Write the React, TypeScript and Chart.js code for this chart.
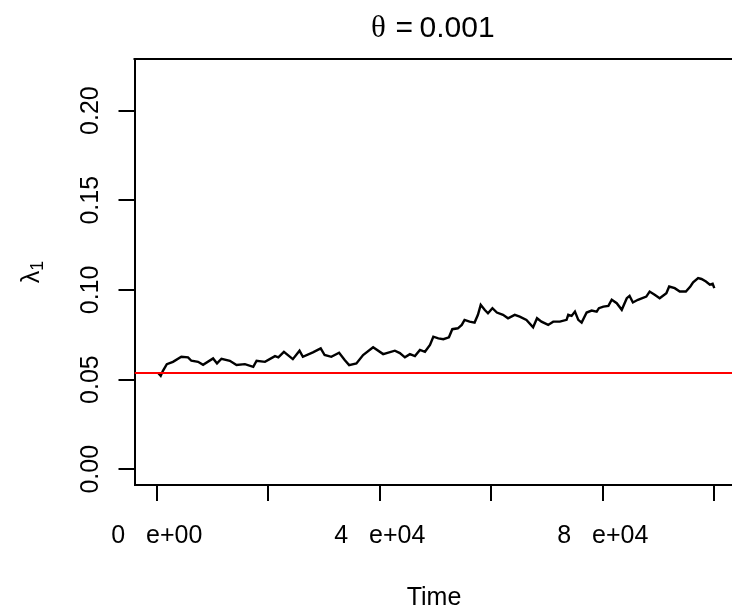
import React, { useEffect, useRef } from "react";
import { Chart, registerables } from "chart.js";

Chart.register(...registerables);

// Simulated path of lambda_1 over time
const timeValues = [
  200, 700, 1100, 1800, 2900, 4400, 5600, 6200, 7400, 8300,
  10100, 10800, 11600, 13100, 14300, 15800, 17300, 17900, 19400, 21200,
  21800, 22800, 24400, 25600, 26200, 28000, 29400, 30100, 31300, 32700,
  33700, 34500, 35800, 37000, 38800, 40600, 42700, 43600, 44500, 45400,
  46300, 47200, 48100, 49000, 49600, 50500, 51400, 52400, 53000, 54000,
  54700, 55200, 56100, 57000, 57600, 58100, 58800, 59400, 60200, 61000,
  62100, 63000, 64200, 65100, 66300, 67500, 68200, 69000, 70200, 71100,
  72300, 73500, 73800, 74400, 75000, 75600, 76200, 77100, 78000, 78900,
  79300, 80100, 81000, 81600, 82500, 83400, 84300, 84800, 85400, 86300,
  87800, 88400, 89300, 90200, 91400, 91900, 92900, 93800, 94900, 95700,
  96200, 97100, 97700, 98500, 99200, 99700, 100000,
];
const lambdaValues = [
  0.0538, 0.0521, 0.0549, 0.0586, 0.0599, 0.0627, 0.0624, 0.0605, 0.0599, 0.0582,
  0.0618, 0.0590, 0.0616, 0.0605, 0.0581, 0.0586, 0.0571, 0.0605, 0.0599, 0.0631,
  0.0624, 0.0655, 0.0614, 0.0661, 0.0627, 0.0652, 0.0674, 0.0637, 0.0627, 0.0650,
  0.0609, 0.0581, 0.0590, 0.0637, 0.0680, 0.0642, 0.0661, 0.0648, 0.0624, 0.0642,
  0.0631, 0.0665, 0.0655, 0.0693, 0.0739, 0.0730, 0.0725, 0.0736, 0.0781, 0.0786,
  0.0805, 0.0833, 0.0823, 0.0818, 0.0861, 0.0917, 0.0889, 0.0870, 0.0898, 0.0874,
  0.0861, 0.0842, 0.0861, 0.0851, 0.0833, 0.0792, 0.0842, 0.0823, 0.0805, 0.0823,
  0.0823, 0.0833, 0.0861, 0.0855, 0.0879, 0.0833, 0.0818, 0.0874, 0.0885, 0.0879,
  0.0898, 0.0907, 0.0911, 0.0945, 0.0926, 0.0889, 0.0954, 0.0967, 0.0930, 0.0945,
  0.0963, 0.0991, 0.0973, 0.0954, 0.0982, 0.1019, 0.1010, 0.0991, 0.0991, 0.1019,
  0.1042, 0.1066, 0.1061, 0.1047, 0.1029, 0.1034, 0.1010,
];
const trueLambda = 0.0537;

const xTickValues = [0, 20000, 40000, 60000, 80000, 100000];
const xTickLabels = ["0   e+00", "", "4   e+04", "", "8   e+04", ""];
const yTickValues = [0, 0.05, 0.1, 0.15, 0.2];
const yTickLabels = ["0.00", "0.05", "0.10", "0.15", "0.20"];

const titleTheta = "θ";
const titleRest = ["=", "0.001"];
const xAxisTitle = "Time";
const yAxisSymbol = "λ";
const yAxisSub = "1";

const X_MIN = -4000;
const X_MAX = 103172;
const Y_MIN = -0.0088;
const Y_MAX = 0.2288;

const SANS = '"Liberation Sans", Arial, sans-serif';
const SERIF = '"Liberation Serif", "Times New Roman", serif';

const rStylePlugin = {
  id: "rStyle",
  afterDraw(chart: any) {
    const ctx = chart.ctx as CanvasRenderingContext2D;
    const area = chart.chartArea;
    const xs = chart.scales.x;
    const ys = chart.scales.y;
    ctx.save();
    ctx.fillStyle = "#000";
    ctx.strokeStyle = "#000";

    // top border of the box (right side is beyond the canvas)
    ctx.lineWidth = 2;
    ctx.beginPath();
    ctx.moveTo(area.left - 1, Math.round(area.top));
    ctx.lineTo(chart.width, Math.round(area.top));
    ctx.stroke();

    // x tick labels
    ctx.font = `25px ${SANS}`;
    ctx.textAlign = "center";
    ctx.textBaseline = "alphabetic";
    xTickValues.forEach((v, i) => {
      if (!xTickLabels[i]) return;
      ctx.fillText(xTickLabels[i], xs.getPixelForValue(v), 543);
    });

    // y tick labels (rotated)
    yTickValues.forEach((v, i) => {
      ctx.save();
      ctx.translate(98, ys.getPixelForValue(v));
      ctx.rotate(-Math.PI / 2);
      ctx.fillText(yTickLabels[i], 0, 0);
      ctx.restore();
    });

    // x axis title
    ctx.fillText(xAxisTitle, 434, 605);

    // title  θ = 0.001
    const cx = 434;
    ctx.textAlign = "left";
    ctx.font = `31px ${SERIF}`;
    ctx.fillText(titleTheta, cx - 63, 37);
    ctx.font = `30px ${SANS}`;
    ctx.fillText(titleRest[0], cx - 38.5, 37);
    ctx.fillText(titleRest[1], cx - 14.5, 37);

    // y axis title  λ1 (rotated)
    ctx.save();
    ctx.translate(39, 272);
    ctx.rotate(-Math.PI / 2);
    ctx.font = `25px ${SANS}`;
    const w1 = ctx.measureText(yAxisSymbol).width;
    ctx.font = `18px ${SANS}`;
    const w2 = ctx.measureText(yAxisSub).width;
    const start = -(w1 + w2) / 2;
    ctx.font = `25px ${SANS}`;
    ctx.fillText(yAxisSymbol, start, 0);
    ctx.font = `18px ${SANS}`;
    ctx.fillText(yAxisSub, start + w1, 4);
    ctx.restore();

    ctx.restore();
  },
};

export default function App() {
  const canvasRef = useRef<HTMLCanvasElement | null>(null);

  useEffect(() => {
    if (!canvasRef.current) return;
    const pathData = timeValues.map((t, i) => ({ x: t, y: lambdaValues[i] }));
    const chart = new Chart(canvasRef.current, {
      type: "line",
      data: {
        datasets: [
          {
            label: "true",
            data: [
              { x: X_MIN, y: trueLambda },
              { x: X_MAX, y: trueLambda },
            ],
            borderColor: "#ff0000",
            borderWidth: 2,
            pointRadius: 0,
            order: 0,
          },
          {
            label: "lambda1",
            data: pathData,
            borderColor: "#000000",
            borderWidth: 2.4,
            pointRadius: 0,
            tension: 0,
            order: 1,
          },
        ],
      },
      options: {
        responsive: false,
        animation: false,
        events: [],
        layout: { padding: { top: 59, left: 0, right: 0, bottom: 0 } },
        plugins: {
          legend: { display: false },
          title: { display: false },
          tooltip: { enabled: false },
        },
        scales: {
          x: {
            type: "linear",
            min: X_MIN,
            max: X_MAX,
            afterBuildTicks: (scale: any) => {
              scale.ticks = xTickValues.map((v) => ({ value: v }));
            },
            afterFit: (scale: any) => {
              scale.height = 128;
            },
            ticks: { display: false },
            grid: {
              drawOnChartArea: false,
              drawTicks: true,
              tickLength: 16,
              color: "#000",
              lineWidth: 2,
            },
            border: { display: true, color: "#000", width: 2 },
          },
          y: {
            type: "linear",
            min: Y_MIN,
            max: Y_MAX,
            afterBuildTicks: (scale: any) => {
              scale.ticks = yTickValues.map((v) => ({ value: v }));
            },
            afterFit: (scale: any) => {
              scale.width = 134.5;
            },
            ticks: { display: false },
            grid: {
              drawOnChartArea: false,
              drawTicks: true,
              tickLength: 16,
              color: "#000",
              lineWidth: 2,
            },
            border: { display: true, color: "#000", width: 2 },
          },
        },
      },
      plugins: [rStylePlugin],
    });
    return () => chart.destroy();
  }, []);

  return (
    <div style={{ position: "absolute", left: 0, top: 0, width: 732, height: 613, background: "#fff" }}>
      <canvas ref={canvasRef} width={732} height={613} style={{ display: "block" }} />
    </div>
  );
}
